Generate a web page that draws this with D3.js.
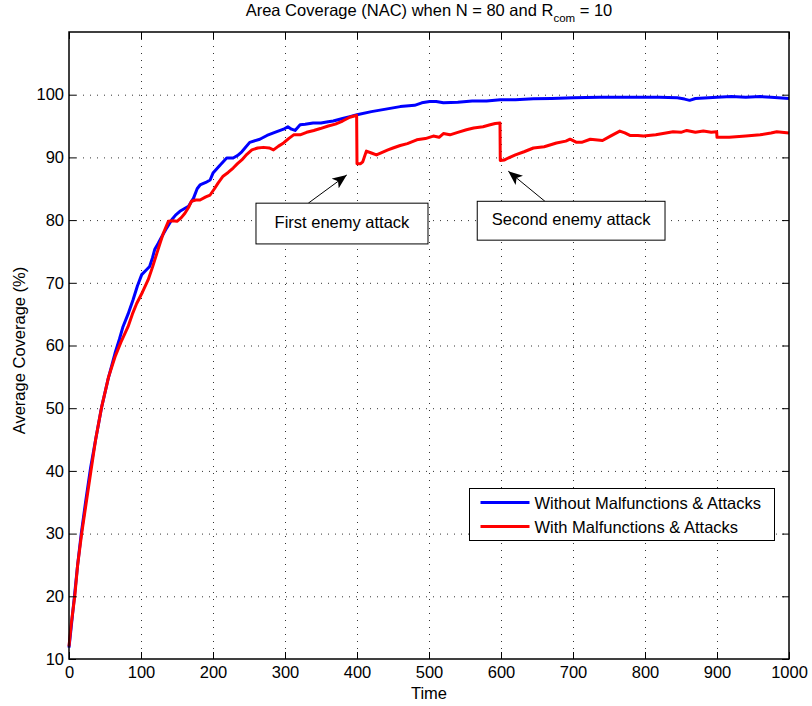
<!DOCTYPE html>
<html>
<head>
<meta charset="utf-8">
<script src="https://cdn.jsdelivr.net/npm/d3@7"></script>
<style>
  body { margin: 0; background: #fff; }
  text { font-family: "Liberation Sans", Arial, sans-serif; fill: #000; }
</style>
</head>
<body>
<div id="wrapper"></div>
<script>
// 1. Data
const blueTime = [0, 3, 8, 12, 17, 23, 30, 37, 45, 54, 64, 70, 75, 82, 89, 95, 101, 107, 112, 116,
  119, 124, 129, 136, 143, 148, 154, 160, 166, 173, 178, 182, 190, 196, 200, 210, 219, 228, 234, 240,
  251, 265, 275, 284, 298, 304, 309, 314, 321, 328, 339, 350, 360, 367, 380, 390, 400, 420, 440, 460,
  480, 490, 501, 510, 520, 540, 560, 580, 599, 620, 645, 670, 700, 737, 760, 790, 820, 845, 855, 862,
  870, 900, 920, 940, 960, 975, 1000]
const blueValue = [11.8, 15, 20.5, 25, 30, 35, 40.5, 45, 50, 54.5, 58.8, 61, 63, 65, 67.3, 69.5, 71.3, 72, 72.6, 74,
  75.3, 76.3, 77.4, 78.8, 80.1, 80.8, 81.4, 81.8, 82.2, 83.5, 85, 85.6, 86, 86.4, 87.5, 88.8, 89.9, 89.9, 90.3, 90.9,
  92.4, 92.9, 93.5, 93.9, 94.5, 94.9, 94.5, 94.3, 95.2, 95.3, 95.5, 95.5, 95.7, 95.8, 96.2, 96.5, 96.8, 97.3, 97.7, 98.1,
  98.3, 98.7, 98.9, 98.9, 98.7, 98.8, 99.0, 99.0, 99.2, 99.2, 99.35, 99.4, 99.5, 99.6, 99.6, 99.6, 99.6, 99.5, 99.3, 99.1,
  99.4, 99.6, 99.7, 99.6, 99.7, 99.6, 99.4]

const redTime = [0, 3, 8, 12, 17.6, 24, 30.5, 37, 45, 55, 64, 72, 82, 88, 94, 102, 110, 116, 122, 127,
  131, 138, 144, 150, 156, 161, 166, 170, 176, 182, 190, 196, 202, 207, 214, 221, 228, 234, 240, 247,
  254, 262, 270, 278, 284, 291, 298, 305, 312, 321, 330, 340, 349, 360, 370, 380, 390, 396, 399.5, 400,
  405, 408, 413, 420, 427, 435, 443, 450, 460, 470, 483, 495, 506, 514, 520, 529, 540, 552, 562, 575,
  585, 592, 598.6, 599, 605, 610, 620, 632, 645, 660, 677, 690, 696, 705, 712, 724, 741, 752, 765, 772,
  779, 790, 798, 815, 839, 850, 858, 870, 881, 892, 899.5, 900, 917, 940, 960, 975, 983, 1000]
const redValue = [12, 15.5, 20, 25, 30, 35, 40, 45, 50, 55, 58.2, 60.5, 63, 65, 66.7, 68.5, 70.5, 72.5, 74.7, 76.5,
  77.9, 79.8, 79.9, 79.8, 80.4, 81.1, 82, 83, 83.2, 83.2, 83.7, 84, 85, 85.9, 87, 87.6, 88.3, 89, 89.6, 90.5,
  91.2, 91.5, 91.6, 91.5, 91.2, 91.8, 92.3, 93, 93.6, 93.6, 94.0, 94.3, 94.6, 95, 95.3, 95.8, 96.4, 96.6, 96.7, 89.0,
  89.0, 89.3, 91.0, 90.7, 90.4, 90.8, 91.2, 91.5, 91.9, 92.2, 92.8, 93.0, 93.4, 93.2, 93.8, 93.6, 94.0, 94.4, 94.7, 94.9,
  95.2, 95.4, 95.5, 89.5, 89.6, 89.9, 90.4, 90.9, 91.5, 91.7, 92.3, 92.6, 92.9, 92.4, 92.4, 92.9, 92.7, 93.4, 94.2, 93.9,
  93.5, 93.5, 93.4, 93.6, 94.1, 94.0, 94.3, 94.0, 94.2, 94.0, 94.1, 93.2, 93.2, 93.4, 93.6, 93.9, 94.1, 93.9]

const seriesNames = ["Without Malfunctions & Attacks", "With Malfunctions & Attacks"]
const seriesColors = ["#0000ff", "#ff0000"]

const xTicks = d3.range(0, 1001, 100)
const yTicks = d3.range(10, 101, 10)

// annotation boxes and arrows, in data units
const annotations = [
  { text: "First enemy attack", x0: 259.7, x1: 498.6, yTop: 82.7, yBot: 76.2, tailX: 332.4, tipX: 385.8, tipY: 87.2 },
  { text: "Second enemy attack", x0: 567, x1: 827.8, yTop: 83.0, yBot: 76.8, tailX: 661, tipX: 610.1, tipY: 87.8 },
]

// 2. Dimensions
const dimensions = {
  width: 812,
  height: 706,
  margins: { top: 32, right: 23, bottom: 47, left: 69 },
}
dimensions.boundedWidth = dimensions.width - dimensions.margins.left - dimensions.margins.right
dimensions.boundedHeight = dimensions.height - dimensions.margins.top - dimensions.margins.bottom

const wrapper = d3.select("#wrapper").append("svg")
  .attr("width", dimensions.width)
  .attr("height", dimensions.height)

const bounds = wrapper.append("g")
  .attr("transform", `translate(${dimensions.margins.left},${dimensions.margins.top})`)

// 3. Scales
const xScale = d3.scaleLinear().domain([0, 1000]).range([0, dimensions.boundedWidth])
const yScale = d3.scaleLinear().domain([10, 110]).range([dimensions.boundedHeight, 0])

// grid
const gridX = bounds.append("g").call(d3.axisBottom(xScale)
  .tickValues(xTicks.slice(1, -1)).tickSize(dimensions.boundedHeight).tickFormat(""))
const gridY = bounds.append("g").call(d3.axisLeft(yScale)
  .tickValues(yTicks.slice(1)).tickSize(-dimensions.boundedWidth).tickFormat(""))
;[gridX, gridY].forEach(g => {
  g.select(".domain").remove()
  g.selectAll("line").attr("stroke", "#333").attr("stroke-dasharray", "1,6")
})

// 4. Lines
const blueData = blueTime.map((t, i) => [t, blueValue[i]])
const redData = redTime.map((t, i) => [t, redValue[i]])
const lineGen = d3.line().x(d => xScale(d[0])).y(d => yScale(d[1]))

;[blueData, redData].forEach((data, i) => {
  bounds.append("path")
    .datum(data)
    .attr("d", lineGen)
    .attr("fill", "none")
    .attr("stroke", seriesColors[i])
    .attr("stroke-width", 3)
    .attr("stroke-linejoin", "round")
})

// 5. Axes (inward ticks on all four sides)
const fontSize = 16.5
const xAxis = bounds.append("g")
  .attr("transform", `translate(0,${dimensions.boundedHeight})`)
  .call(d3.axisBottom(xScale).tickValues(xTicks).tickFormat(d3.format("d"))
    .tickSizeInner(-7).tickSizeOuter(0).tickPadding(7))
const yAxis = bounds.append("g")
  .call(d3.axisLeft(yScale).tickValues(yTicks).tickSizeInner(-7).tickSizeOuter(0).tickPadding(5))
const topAxis = bounds.append("g")
  .call(d3.axisTop(xScale).tickValues(xTicks).tickSizeInner(-7).tickSizeOuter(0).tickFormat(""))
const rightAxis = bounds.append("g")
  .attr("transform", `translate(${dimensions.boundedWidth},0)`)
  .call(d3.axisRight(yScale).tickValues(yTicks).tickSizeInner(-7).tickSizeOuter(0).tickFormat(""))

;[xAxis, yAxis, topAxis, rightAxis].forEach(g => {
  g.select(".domain").remove()
  g.selectAll("line").attr("stroke", "#000").attr("stroke-width", 1)
  g.selectAll("text").style("font-size", fontSize + "px").attr("fill", "#000")
    .style("font-family", '"Liberation Sans", Arial, sans-serif')
})

bounds.append("rect")
  .attr("width", dimensions.boundedWidth)
  .attr("height", dimensions.boundedHeight)
  .attr("fill", "none")
  .attr("stroke", "#000")
  .attr("stroke-width", 1.5)

// 6. Labels
const title = wrapper.append("text")
  .attr("x", dimensions.margins.left + dimensions.boundedWidth / 2)
  .attr("y", 16)
  .attr("text-anchor", "middle")
  .style("font-size", fontSize + "px")
title.append("tspan").text("Area Coverage (NAC) when N = 80 and R")
title.append("tspan").text("com").attr("dy", 6).style("font-size", "11.5px")
title.append("tspan").text(" = 10").attr("dy", -6)

wrapper.append("text")
  .attr("x", dimensions.margins.left + dimensions.boundedWidth / 2)
  .attr("y", 699)
  .attr("text-anchor", "middle")
  .style("font-size", fontSize + "px")
  .text("Time")

wrapper.append("text")
  .attr("transform", `translate(25,${dimensions.margins.top + dimensions.boundedHeight / 2 + 5}) rotate(-90)`)
  .attr("text-anchor", "middle")
  .style("font-size", fontSize + "px")
  .text("Average Coverage (%)")

// 7. Annotations
const defs = wrapper.append("defs")
defs.append("marker")
  .attr("id", "arrowhead")
  .attr("viewBox", "0 0 12 10")
  .attr("refX", 12).attr("refY", 5)
  .attr("markerWidth", 15).attr("markerHeight", 12)
  .attr("markerUnits", "userSpaceOnUse")
  .attr("orient", "auto")
  .append("path").attr("d", "M0,0 L12,5 L0,10 L3,5 Z").attr("fill", "#000")

annotations.forEach(a => {
  bounds.append("line")
    .attr("x1", xScale(a.tailX)).attr("y1", yScale(a.yTop))
    .attr("x2", xScale(a.tipX)).attr("y2", yScale(a.tipY))
    .attr("stroke", "#000").attr("stroke-width", 1)
    .attr("marker-end", "url(#arrowhead)")
  bounds.append("rect")
    .attr("x", xScale(a.x0)).attr("y", yScale(a.yTop))
    .attr("width", xScale(a.x1) - xScale(a.x0))
    .attr("height", yScale(a.yBot) - yScale(a.yTop))
    .attr("fill", "#fff").attr("stroke", "#000").attr("stroke-width", 1)
  bounds.append("text")
    .attr("x", (xScale(a.x0) + xScale(a.x1)) / 2)
    .attr("y", (yScale(a.yTop) + yScale(a.yBot)) / 2 + 4)
    .attr("text-anchor", "middle")
    .style("font-size", fontSize + "px")
    .text(a.text)
})

// 8. Legend
const legend = wrapper.append("g").attr("transform", "translate(469.5,488.5)")
legend.append("rect")
  .attr("width", 305).attr("height", 52)
  .attr("fill", "#fff").attr("stroke", "#000").attr("stroke-width", 1)
seriesNames.forEach((name, i) => {
  const row = legend.append("g").attr("transform", `translate(0,${14 + i * 24})`)
  row.append("line").attr("x1", 11).attr("x2", 60)
    .attr("stroke", seriesColors[i]).attr("stroke-width", 3)
  row.append("text").attr("x", 65).attr("y", 6)
    .style("font-size", fontSize + "px").text(name)
})
</script>
</body>
</html>
